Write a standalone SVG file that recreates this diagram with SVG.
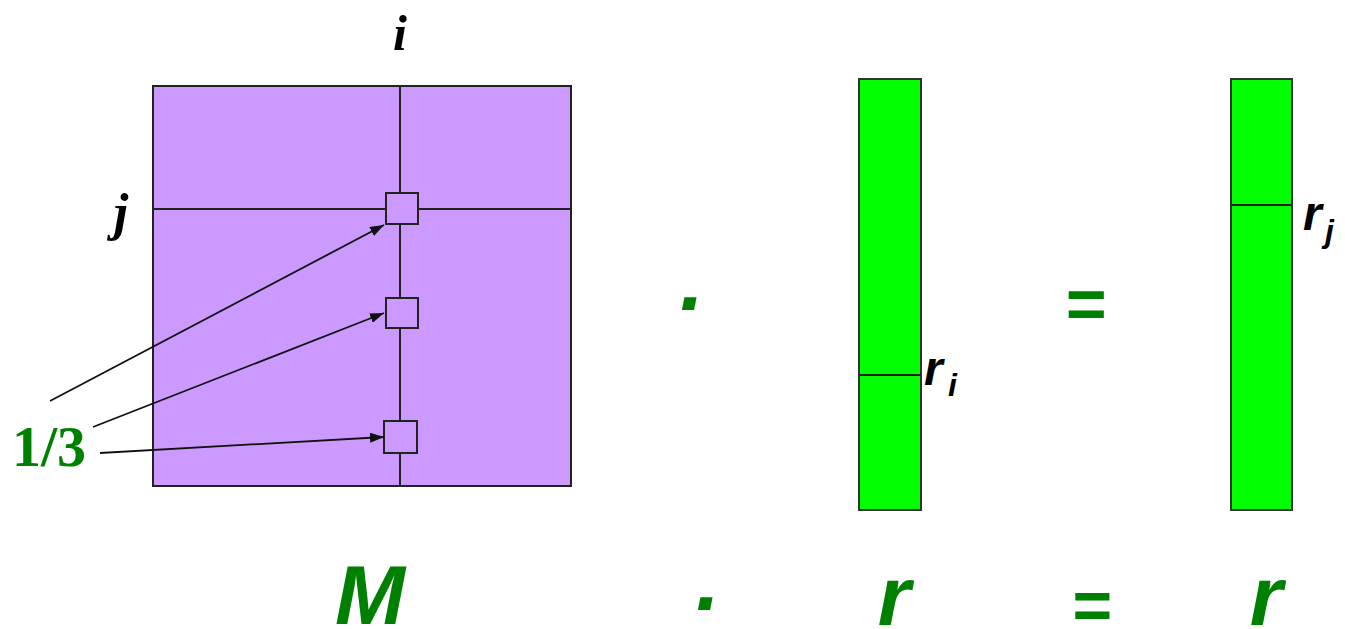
<svg xmlns="http://www.w3.org/2000/svg" width="1345" height="629" viewBox="0 0 1345 629">
<defs>
<style>
.mat{fill:#CC99FF;stroke:#222;stroke-width:2}
.ln{stroke:#222;stroke-width:2;fill:none}
.cell{fill:#CC99FF;stroke:#222;stroke-width:2}
.col{fill:#00FF00;stroke:#333;stroke-width:2}
.arr{stroke:#111;stroke-width:1.8;fill:none;marker-end:url(#ah)}
.lbl{font-family:"Liberation Serif",serif;font-weight:bold;font-style:italic;fill:#000}
.rlbl{font-family:"Liberation Sans",Arial,sans-serif;font-weight:bold;font-style:italic;fill:#000}
.big{font-family:"Liberation Sans",Arial,sans-serif;font-weight:bold;font-style:italic;fill:#008000}
.frac{font-family:"Liberation Serif",serif;font-weight:bold;fill:#008000}
</style>
<marker id="ah" markerWidth="14" markerHeight="10" refX="14" refY="5" orient="auto" markerUnits="userSpaceOnUse">
<path d="M0,0 L14,5 L0,10 Z" fill="#111"/>
</marker>
</defs>
<g id="matrix">
<rect class="mat" x="153" y="86" width="418" height="400"/>
<line class="ln" x1="400" y1="86" x2="400" y2="486"/>
<line class="ln" x1="153" y1="209" x2="571" y2="209"/>
<rect class="cell" x="386" y="193" width="32" height="31"/>
<rect class="cell" x="386" y="298" width="32" height="30"/>
<rect class="cell" x="384" y="421" width="33" height="32"/>
<text class="lbl" x="400" y="50" font-size="50" text-anchor="middle">i</text>
<text class="lbl" x="121" y="230" font-size="52" text-anchor="middle">j</text>
</g>
<g id="frac-label">
<text class="frac" x="12" y="466" font-size="58">1/3</text>
</g>
<g id="connectors">
<line class="arr" x1="50" y1="401" x2="384" y2="225"/>
<line class="arr" x1="93" y1="427" x2="384" y2="313"/>
<line class="arr" x1="100" y1="453" x2="384" y2="437"/>
</g>
<g id="vec-r">
<rect class="col" x="859" y="79" width="62" height="431"/>
<line class="ln" x1="859" y1="375" x2="921" y2="375"/>
<text class="rlbl" x="924" y="385" font-size="48">r</text>
<text class="rlbl" x="948" y="396" font-size="32">i</text>
</g>
<g id="vec-r2">
<rect class="col" x="1231" y="79" width="61" height="431"/>
<line class="ln" x1="1231" y1="205" x2="1292" y2="205"/>
<text class="rlbl" x="1303" y="230" font-size="48">r</text>
<text class="rlbl" x="1325" y="242" font-size="32">j</text>
</g>
<g id="ops">
<text class="big" x="692" y="310" font-size="86" text-anchor="middle">.</text>
<text class="big" x="1085" y="328" font-size="70" text-anchor="middle">=</text>
</g>
<g id="equation">
<text class="big" x="370" y="624" font-size="84" text-anchor="middle">M</text>
<text class="big" x="708" y="610" font-size="86" text-anchor="middle">.</text>
<text class="big" x="894" y="625" font-size="84" text-anchor="middle">r</text>
<text class="big" x="1091" y="629" font-size="68" text-anchor="middle">=</text>
<text class="big" x="1266" y="625" font-size="84" text-anchor="middle">r</text>
</g>
</svg>
